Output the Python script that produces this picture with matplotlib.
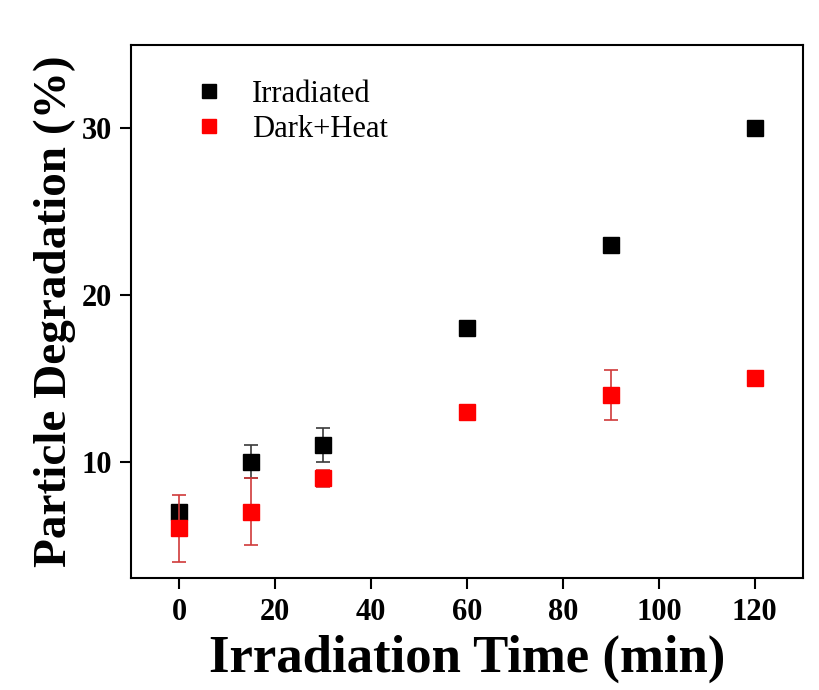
import numpy as np
import matplotlib.pyplot as plt

plt.rcParams['font.family'] = ['Liberation Serif', 'DejaVu Serif']

time_min = [0, 15, 30, 60, 90, 120]

irradiated     = [7, 10, 11, 18, 23, 30]
irradiated_err = [0.3, 1.0, 1.0, 0.3, 0.4, 0.4]

dark_heat     = [6, 7, 9, 13, 14, 15]
dark_heat_err = [2.0, 2.0, 0.5, 0.4, 1.5, 0.4]

fig = plt.figure(figsize=(8.2, 6.9), dpi=100)
ax = fig.add_axes([0.160, 0.162, 0.819, 0.773])

ax.errorbar(time_min, irradiated, yerr=irradiated_err, fmt='s', color='black',
            ecolor='#3a3a3a', elinewidth=1.2, capsize=5, capthick=1.2,
            markersize=11, label='Irradiated', zorder=3)
ax.errorbar(time_min, dark_heat, yerr=dark_heat_err, fmt='s', color='#ff0000',
            ecolor='#d03a3a', elinewidth=1.2, capsize=5, capthick=1.2,
            markersize=11, label='Dark+Heat', zorder=4)

ax.set_xlim(-10, 130)
ax.set_ylim(3, 35)
ax.set_xticks(np.arange(0, 121, 20))
ax.set_yticks([10, 20, 30])

for s in ax.spines.values():
    s.set_linewidth(1.5)
ax.tick_params(direction='out', length=8, width=1.5, labelsize=22, pad=6)
for lab in ax.get_xticklabels() + ax.get_yticklabels():
    lab.set_fontweight('bold')

ax.set_xlabel('Irradiation Time (min)', fontsize=38, fontweight='bold', labelpad=6)
ax.set_ylabel('Particle Degradation (%)', fontsize=34, fontweight='bold', labelpad=4)

handles, labels = ax.get_legend_handles_labels()
handles = [h[0] for h in handles]
leg = ax.legend(handles, labels, loc='upper left', bbox_to_anchor=(0.03, 0.986),
                frameon=False, fontsize=22, handletextpad=0.4, labelspacing=0.2,
                markerscale=0.9)

fig.savefig('out.png', dpi=100)
